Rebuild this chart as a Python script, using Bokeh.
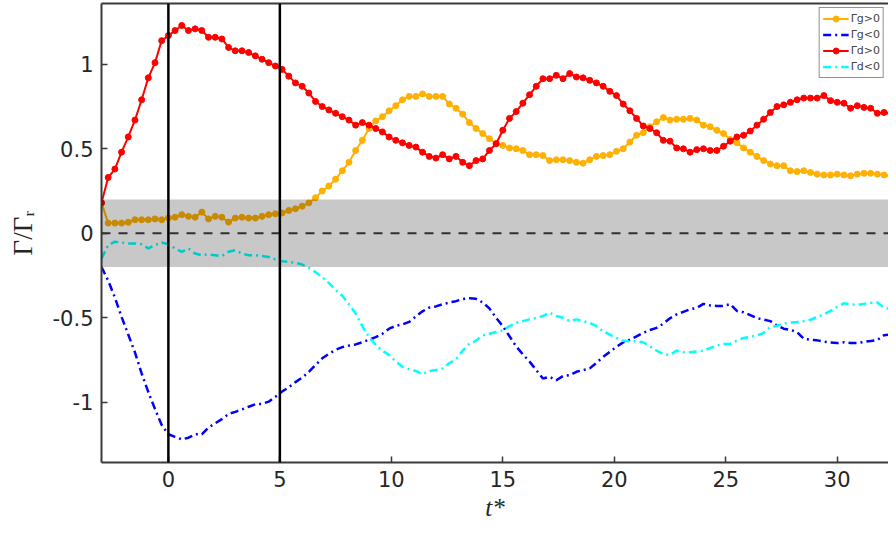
import numpy as np
from bokeh.plotting import figure
from bokeh.models import (FixedTicker, Span, BoxAnnotation, LinearAxis)
from bokeh.embed import file_html
from bokeh.resources import INLINE

# sample grid (t*)
t = [round(-3.0 + 0.3 * k, 1) for k in range(119)]

gamma_g_pos = [0.18, 0.06, 0.06, 0.06, 0.065, 0.08, 0.08, 0.08, 0.085, 0.08,
               0.09, 0.095, 0.11, 0.10, 0.095, 0.125, 0.085, 0.10, 0.095, 0.066,
               0.09, 0.095, 0.09, 0.09, 0.10, 0.11, 0.115, 0.12, 0.135, 0.145,
               0.16, 0.18, 0.21, 0.25, 0.28, 0.32, 0.37, 0.42, 0.49, 0.55,
               0.62, 0.665, 0.69, 0.725, 0.755, 0.79, 0.81, 0.81, 0.825, 0.81,
               0.81, 0.81, 0.765, 0.74, 0.705, 0.655, 0.62, 0.59, 0.56, 0.53,
               0.52, 0.505, 0.50, 0.49, 0.465, 0.465, 0.46, 0.43, 0.435, 0.435,
               0.43, 0.42, 0.415, 0.435, 0.455, 0.46, 0.465, 0.485, 0.50, 0.54,
               0.58, 0.595, 0.63, 0.66, 0.685, 0.67, 0.675, 0.675, 0.68, 0.67,
               0.64, 0.63, 0.61, 0.59, 0.555, 0.535, 0.505, 0.48, 0.455, 0.43,
               0.41, 0.40, 0.40, 0.37, 0.365, 0.37, 0.36, 0.35, 0.345, 0.345,
               0.35, 0.345, 0.34, 0.35, 0.355, 0.355, 0.35, 0.345, 0.34]

gamma_g_neg = [-0.2, -0.28, -0.38, -0.495, -0.6, -0.705, -0.83, -0.94, -1.04, -1.135,
               -1.19, -1.205, -1.22, -1.21, -1.19, -1.19, -1.15, -1.125, -1.10, -1.07,
               -1.057, -1.043, -1.027, -1.012, -1.01, -0.997, -0.968, -0.937, -0.912, -0.881,
               -0.855, -0.82, -0.78, -0.74, -0.714, -0.69, -0.674, -0.665, -0.658, -0.645,
               -0.63, -0.615, -0.595, -0.565, -0.548, -0.54, -0.525, -0.493, -0.462, -0.44,
               -0.433, -0.42, -0.41, -0.402, -0.39, -0.385, -0.388, -0.41, -0.445, -0.50,
               -0.55, -0.61, -0.67, -0.717, -0.76, -0.81, -0.86, -0.85, -0.87, -0.845,
               -0.84, -0.82, -0.81, -0.80, -0.767, -0.732, -0.702, -0.672, -0.646, -0.63,
               -0.61, -0.59, -0.573, -0.56, -0.535, -0.503, -0.48, -0.465, -0.45, -0.442,
               -0.418, -0.427, -0.43, -0.43, -0.42, -0.46, -0.468, -0.485, -0.502, -0.511,
               -0.52, -0.546, -0.565, -0.572, -0.585, -0.625, -0.63, -0.634, -0.641, -0.647,
               -0.65, -0.645, -0.65, -0.65, -0.643, -0.638, -0.632, -0.604, -0.598]

gamma_d_pos = [0.18, 0.33, 0.38, 0.48, 0.57, 0.67, 0.79, 0.92, 1.01, 1.14,
               1.17, 1.20, 1.23, 1.20, 1.21, 1.20, 1.16, 1.16, 1.15, 1.10,
               1.08, 1.08, 1.07, 1.05, 1.03, 1.01, 0.99, 0.97, 0.93, 0.89,
               0.87, 0.83, 0.78, 0.75, 0.73, 0.71, 0.69, 0.67, 0.64, 0.655,
               0.64, 0.62, 0.60, 0.57, 0.55, 0.535, 0.52, 0.51, 0.48, 0.455,
               0.445, 0.465, 0.44, 0.455, 0.42, 0.40, 0.43, 0.44, 0.49, 0.53,
               0.61, 0.68, 0.72, 0.77, 0.82, 0.87, 0.915, 0.915, 0.935, 0.915,
               0.945, 0.925, 0.92, 0.905, 0.89, 0.87, 0.84, 0.815, 0.765, 0.725,
               0.68, 0.635, 0.62, 0.595, 0.55, 0.545, 0.505, 0.50, 0.48, 0.495,
               0.50, 0.49, 0.49, 0.515, 0.545, 0.57, 0.58, 0.605, 0.64, 0.675,
               0.715, 0.75, 0.76, 0.775, 0.79, 0.80, 0.80, 0.80, 0.815, 0.785,
               0.775, 0.77, 0.74, 0.755, 0.745, 0.74, 0.71, 0.715, 0.71]

gamma_d_neg = [-0.15, -0.07, -0.05, -0.055, -0.06, -0.06, -0.065, -0.09, -0.07, -0.055,
               -0.065, -0.09, -0.11, -0.09, -0.12, -0.13, -0.125, -0.13, -0.135, -0.11,
               -0.10, -0.12, -0.13, -0.13, -0.135, -0.14, -0.155, -0.165, -0.17, -0.175,
               -0.185, -0.205, -0.23, -0.26, -0.295, -0.335, -0.37, -0.42, -0.475, -0.55,
               -0.615, -0.66, -0.695, -0.72, -0.76, -0.79, -0.805, -0.815, -0.835, -0.815,
               -0.81, -0.80, -0.77, -0.745, -0.695, -0.655, -0.635, -0.605, -0.595, -0.585,
               -0.575, -0.55, -0.53, -0.52, -0.51, -0.50, -0.49, -0.47, -0.49, -0.50,
               -0.52, -0.51, -0.52, -0.53, -0.55, -0.58, -0.60, -0.62, -0.637, -0.64,
               -0.64, -0.645, -0.67, -0.695, -0.715, -0.72, -0.695, -0.705, -0.705, -0.70,
               -0.695, -0.68, -0.665, -0.655, -0.655, -0.635, -0.62, -0.613, -0.605, -0.59,
               -0.555, -0.548, -0.535, -0.528, -0.525, -0.52, -0.512, -0.495, -0.48, -0.46,
               -0.435, -0.415, -0.42, -0.425, -0.418, -0.412, -0.41, -0.44, -0.45]

x_ticks = [0, 5, 10, 15, 20, 25, 30]
y_ticks = [-1, -0.5, 0, 0.5, 1]
y_tick_labels = {-1: "-1", -0.5: "-0.5", 0: "0", 0.5: "0.5", 1: "1"}
markers_t = [0, 5]
band = (-0.2, 0.2)

AX = "#3a3a3a"
TICKFONT = "DejaVu Sans"

p = figure(width=888, height=525, x_range=(-3, 32.3), y_range=(-1.357, 1.36),
           output_backend="svg", toolbar_location=None,
           min_border_left=101, min_border_right=0, min_border_top=3, min_border_bottom=63)
p.outline_line_color = None
p.xgrid.visible = False
p.ygrid.visible = False
p.background_fill_color = "white"

for ax in (p.xaxis[0], p.yaxis[0]):
    ax.axis_line_color = AX
    ax.axis_line_width = 2
    ax.major_tick_line_color = AX
    ax.major_tick_line_width = 1.5
    ax.major_tick_in = 6
    ax.major_tick_out = 0
    ax.minor_tick_line_color = None
    ax.major_label_text_font = TICKFONT
    ax.major_label_text_font_size = "21px"
    ax.major_label_text_color = "#262626"

p.xaxis.ticker = FixedTicker(ticks=x_ticks)
p.xaxis.major_label_standoff = 8
p.xaxis.axis_label = "t*"
p.xaxis.axis_label_text_font = "Liberation Serif"
p.xaxis.axis_label_text_font_style = "italic"
p.xaxis.axis_label_text_font_size = "25px"
p.xaxis.axis_label_text_color = "#262626"
p.xaxis.axis_label_standoff = 4

p.yaxis.ticker = FixedTicker(ticks=y_ticks)
p.yaxis.major_label_overrides = y_tick_labels
p.yaxis.major_label_standoff = 8
p.yaxis.axis_label = "Γ/Γᵣ"
p.yaxis.axis_label_text_font = "Liberation Serif"
p.yaxis.axis_label_text_font_style = "normal"
p.yaxis.axis_label_text_font_size = "27px"
p.yaxis.axis_label_text_color = "#262626"
p.yaxis.axis_label_standoff = 12

top = LinearAxis(ticker=FixedTicker(ticks=[]), axis_line_color=AX, axis_line_width=2,
                 major_tick_line_color=None, minor_tick_line_color=None,
                 major_label_text_font_size="0px")
p.add_layout(top, "above")

# lines
p.line(t, gamma_g_pos, line_color="#FFB000", line_width=2, legend_label="Γg>0")
p.scatter(t, gamma_g_pos, size=6, fill_color="#FFB000", line_color="#FFB000", legend_label="Γg>0")
p.line(t, gamma_g_neg, line_color="#0000FF", line_width=2.5, line_dash="8 4 2 4", legend_label="Γg<0")
p.line(t, gamma_d_pos, line_color="#FF0000", line_width=2, legend_label="Γd>0")
p.scatter(t, gamma_d_pos, size=6, fill_color="#FF0000", line_color="#FF0000", legend_label="Γd>0")
p.line(t, gamma_d_neg, line_color="#00FFFF", line_width=2.5, line_dash="8 4 2 4", legend_label="Γd<0")

# grey band drawn semi-transparent over lines
p.add_layout(BoxAnnotation(bottom=band[0], top=band[1], fill_color="black", fill_alpha=0.215,
                           line_color=None))
p.add_layout(Span(location=0, dimension="width", line_color="#303030", line_width=2,
                  line_dash="9 8"))
for m in markers_t:
    p.add_layout(Span(location=m, dimension="height", line_color="black", line_width=2.5))

lg = p.legend[0]
lg.location = "top_right"
lg.margin = 4
lg.padding = 3
lg.spacing = 1
lg.label_text_font = TICKFONT
lg.label_text_font_size = "11px"
lg.label_height = 15
lg.glyph_height = 15
lg.glyph_width = 26
lg.label_standoff = 2
lg.border_line_color = "#222222"
lg.border_line_width = 1.5
lg.background_fill_alpha = 1

open("out.html", "w").write(file_html(p, INLINE))
